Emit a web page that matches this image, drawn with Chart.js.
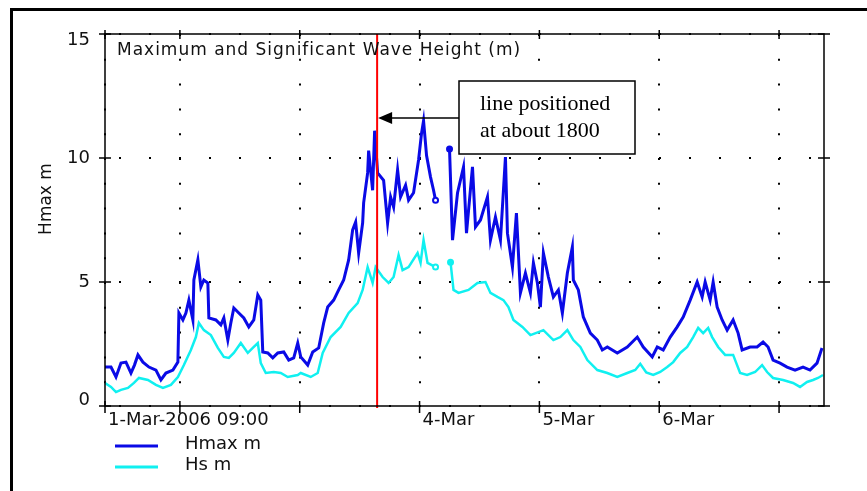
<!DOCTYPE html>
<html>
<head>
<meta charset="utf-8">
<script src="https://cdn.jsdelivr.net/npm/chart.js@4.4.0/dist/chart.umd.min.js"></script>
<style>
  html, body { margin: 0; padding: 0; background: #fff; }
  #wrap { width: 867px; height: 491px; position: relative; }
</style>
</head>
<body>
<div id="wrap"><canvas id="waves"></canvas></div>
<script>
// hours after 1-Mar-2006 09:00
const hmaxHours = [0, 1.2, 2.2, 3.2, 4.2, 5.2, 5.9, 6.6, 7.6, 8.8,
  10.2, 11.2, 12.2, 13.6, 14.6, 14.8, 15.6, 16.2, 16.8, 17.6,
  17.8, 18.6, 19.2, 19.8, 20.6, 20.8, 22.2, 23.2, 23.8, 24.6,
  25.2, 25.8, 26.8, 27.8, 28.8, 29.8, 30.6, 31.2, 31.6, 32.6,
  33.6, 34.6, 35.8, 36.8, 37.8, 38.6, 39.2, 40.6, 41.6, 42.8,
  43.8, 44.6, 45.8, 46.8, 47.8, 48.8, 49.6, 50.2, 50.8, 51.6,
  51.8, 52.6, 52.8, 53.6, 54, 54.6, 55.8, 56.6, 57.2, 57.8,
  58.6, 59.2, 60.2, 60.8, 61.8, 62.8, 63.4, 63.8, 64.4, 65.2,
  65.8, 66.2, 67.6, 69, 69.6, 70.6, 71.8, 72.4, 73.6, 74.2,
  75.2, 76.6, 77.2, 78.2, 79.2, 80.2, 80.6, 81.6, 82.4, 83.2,
  84.2, 85.2, 85.8, 86.6, 87.2, 87.8, 88.8, 89.8, 90.8, 91.6,
  92.6, 93.6, 93.8, 94.8, 95.8, 97.2, 98.6, 99.6, 100.6, 102.6,
  104.6, 106.6, 107.8, 109.6, 110.6, 111.8, 113.2, 114.6, 115.8, 117.2,
  118.6, 119.6, 120.2, 121.2, 121.8, 122.6, 123.6, 124.6, 125.8, 126.8,
  127.6, 129.2, 130.6, 131.8, 132.8, 133.8, 135.2, 136.6, 138.2, 139.8,
  141.2, 142.6, 143.6];
const hmaxValues = [1.57, 1.57, 1.17, 1.73, 1.77, 1.33, 1.65, 2.06, 1.77, 1.57,
  1.45, 1.05, 1.33, 1.45, 1.77, 3.75, 3.47, 3.75, 4.27, 3.47,
  5.08, 5.89, 4.8, 5.08, 4.96, 3.55, 3.47, 3.27, 3.55, 2.66,
  3.35, 3.95, 3.75, 3.55, 3.19, 3.47, 4.48, 4.27, 2.18, 2.14,
  1.94, 2.14, 2.18, 1.85, 1.94, 2.54, 1.98, 1.65, 2.18, 2.34,
  3.35, 3.99, 4.27, 4.68, 5.08, 5.89, 7.1, 7.42, 6.17, 7.38,
  8.19, 9.4, 10.3, 8.7, 11.1, 9.4, 9.1, 7.38, 8.43, 8.02,
  9.52, 8.43, 8.9, 8.3, 8.6, 9.92, 11.0, 11.5, 10.1, 9.23,
  8.7, 8.3, null, 10.36, 6.69, 8.59, 9.64, 6.97, 9.64, 7.22,
  7.5, 8.43, 6.69, 7.62, 6.69, 10.04, 6.97, 5.6, 7.78, 4.56,
  5.36, 4.56, 5.77, 4.96, 3.99, 6.17, 5.2, 4.4, 4.68, 3.75,
  5.36, 6.41, 5.08, 4.68, 3.59, 2.94, 2.66, 2.26, 2.38, 2.14,
  2.38, 2.78, 2.38, 1.98, 2.38, 2.26, 2.78, 3.19, 3.59, 4.27,
  5.0, 4.4, 5.0, 4.27, 5.0, 3.99, 3.47, 3.06, 3.47, 2.94,
  2.26, 2.38, 2.38, 2.58, 2.38, 1.85, 1.73, 1.57, 1.45, 1.57,
  1.45, 1.73, 2.34];

const hsHours = [0, 1.2, 2.2, 3.2, 4.6, 5.8, 6.8, 8.6, 10.2, 11.6,
  13.2, 14.6, 15.8, 17.2, 18.2, 18.8, 19.8, 21.2, 22.6, 23.8,
  24.8, 25.8, 27.2, 28.6, 29.6, 30.6, 31.2, 32.2, 33.8, 35.2,
  36.6, 38.6, 39.2, 41.2, 42.6, 43.6, 45.2, 47.2, 48.8, 50.6,
  51.6, 52.6, 53.6, 54.2, 55.6, 56.8, 57.8, 58.8, 59.6, 60.8,
  62.6, 63.2, 63.8, 64.6, 66.2, 67.6, 69.2, 69.8, 70.8, 72.8,
  74.6, 76.2, 77.2, 78.6, 79.8, 80.8, 81.8, 83.6, 85.2, 86.8,
  87.8, 89.8, 91.2, 92.6, 93.8, 95.2, 96.6, 98.6, 100.6, 102.6,
  104.6, 106.2, 107.2, 108.4, 109.8, 111.2, 112.6, 113.8, 115.2, 116.6,
  117.8, 118.8, 119.8, 120.8, 121.6, 122.8, 124.2, 125.8, 127.2, 128.6,
  130.2, 131.6, 132.6, 133.8, 135.8, 137.8, 139.2, 140.6, 141.8, 142.8,
  143.8];
const hsValues = [0.93, 0.77, 0.56, 0.65, 0.73, 0.93, 1.13, 1.05, 0.85, 0.73,
  0.85, 1.17, 1.65, 2.26, 2.78, 3.35, 3.06, 2.86, 2.34, 1.98,
  1.94, 2.14, 2.54, 2.14, 2.34, 2.54, 1.73, 1.33, 1.37, 1.33,
  1.17, 1.25, 1.33, 1.17, 1.33, 2.14, 2.78, 3.19, 3.75, 4.15,
  4.68, 5.6, 4.96, 5.6, 5.2, 4.96, 5.2, 6.09, 5.48, 5.6,
  6.17, 5.77, 6.69, 5.77, 5.6, null, 5.8, 4.68, 4.56, 4.68,
  4.96, 5.0, 4.56, 4.4, 4.27, 3.99, 3.47, 3.19, 2.86, 2.98,
  3.06, 2.66, 2.78, 3.06, 2.66, 2.38, 1.85, 1.45, 1.33, 1.17,
  1.33, 1.45, 1.70, 1.35, 1.25, 1.37, 1.57, 1.77, 2.14, 2.38,
  2.78, 3.15, 2.94, 3.15, 2.78, 2.38, 2.06, 2.06, 1.33, 1.25,
  1.37, 1.65, 1.37, 1.13, 1.05, 0.93, 0.77, 0.97, 1.05, 1.13,
  1.25];

const xTickHours = [0, 15, 39, 63, 87, 111, 135];
const xTickLabels = ['1-Mar-2006 09:00', '', '', '4-Mar', '5-Mar', '6-Mar', ''];
const yTickValues = [0, 5, 10, 15];
const markerHour = 54.5;

const chartTitle = 'Maximum and Significant Wave Height (m)';
const yTitle = 'Hmax m';
const noteLines = ['line positioned', 'at about 1800'];

const sans = '"DejaVu Sans", sans-serif';
const serif = '"Liberation Serif", "Times New Roman", serif';

function points(hours, values) {
    return hours.map((h, i) => ({ x: h, y: values[i] }));
}

// small circles where a series stops / restarts around the gap
function gapRadius(values) {
    return ctx => {
        const i = ctx.dataIndex;
        if (values[i] === null) return 0;
        return (values[i + 1] === null || values[i - 1] === null) ? 2.5 : 0;
    };
}

function gapFill(values, color) {
    return ctx => values[ctx.dataIndex + 1] === null ? '#fff' : color;
}

const decor = {
    id: 'decor',
    beforeDraw(chart) {
        const c = chart.ctx;
        c.save();
        c.fillStyle = '#fff';
        c.fillRect(0, 0, chart.width, chart.height);
        c.fillStyle = '#000';
        c.fillRect(10, 8, 3, chart.height - 8);
        c.fillRect(10, 8, chart.width - 10, 3);
        c.restore();
    },
    afterDatasetsDraw(chart) {
        const c = chart.ctx, a = chart.chartArea;
        const xs = chart.scales.x, ys = chart.scales.y;
        c.save();

        // red marker line
        const rx = xs.getPixelForValue(markerHour);
        c.strokeStyle = '#ff0000';
        c.lineWidth = 2;
        c.beginPath();
        c.moveTo(rx, a.top);
        c.lineTo(rx, a.bottom + 2);
        c.stroke();

        // axes box and tick marks on all four sides
        c.strokeStyle = '#000';
        c.lineWidth = 1.5;
        c.strokeRect(a.left, a.top, a.right - a.left, a.bottom - a.top);
        c.beginPath();
        xTickHours.forEach(h => {
            const px = xs.getPixelForValue(h);
            c.moveTo(px, a.bottom - 5); c.lineTo(px, a.bottom + 7);
            c.moveTo(px, a.top - 4); c.lineTo(px, a.top + 5);
        });
        yTickValues.forEach(v => {
            const py = ys.getPixelForValue(v);
            c.moveTo(a.left - 6, py); c.lineTo(a.left + 6, py);
            c.moveTo(a.right - 6, py); c.lineTo(a.right + 6, py);
        });
        c.stroke();

        // title inside the plot
        c.fillStyle = '#111';
        c.font = '17px ' + sans;
        c.letterSpacing = '1px';
        c.textBaseline = 'alphabetic';
        c.fillText(chartTitle, a.left + 12, a.top + 21);
        c.letterSpacing = '0px';

        // y axis title
        c.save();
        c.translate(47, 199);
        c.rotate(-Math.PI / 2);
        c.textAlign = 'center';
        c.textBaseline = 'middle';
        c.fillText(yTitle, 0, 0);
        c.restore();

        // legend
        c.font = '18px ' + sans;
        c.textBaseline = 'middle';
        chart.data.datasets.forEach((ds, i) => {
            const ly = 446 + i * 21;
            c.strokeStyle = ds.borderColor;
            c.lineWidth = 3;
            c.beginPath();
            c.moveTo(115, ly);
            c.lineTo(158, ly);
            c.stroke();
            c.fillStyle = '#111';
            c.fillText(ds.label, 185, ly - 2);
        });

        // note box with arrow to the marker
        const bx = 459, by = 81, bw = 176, bh = 73;
        c.fillStyle = '#fff';
        c.fillRect(bx, by, bw, bh);
        c.strokeStyle = '#000';
        c.lineWidth = 1.5;
        c.strokeRect(bx, by, bw, bh);
        c.fillStyle = '#000';
        c.font = '22px ' + serif;
        c.textBaseline = 'alphabetic';
        c.textAlign = 'left';
        noteLines.forEach((t, i) => c.fillText(t, 480, 110 + i * 27));
        const ay = 118;
        c.lineWidth = 1.5;
        c.beginPath();
        c.moveTo(bx, ay);
        c.lineTo(rx + 14, ay);
        c.stroke();
        c.beginPath();
        c.moveTo(rx + 1, ay);
        c.lineTo(rx + 15, ay - 6);
        c.lineTo(rx + 15, ay + 6);
        c.closePath();
        c.fill();

        c.restore();
    }
};

new Chart(document.getElementById('waves'), {
    type: 'line',
    data: {
        datasets: [{
            label: 'Hmax m',
            data: points(hmaxHours, hmaxValues),
            borderColor: '#0a0ae6',
            borderWidth: 3,
            pointRadius: gapRadius(hmaxValues),
            pointBackgroundColor: gapFill(hmaxValues, '#0a0ae6'),
            pointBorderColor: '#0a0ae6',
            pointBorderWidth: 2,
            tension: 0,
            spanGaps: false
        }, {
            label: 'Hs m',
            data: points(hsHours, hsValues),
            borderColor: '#10f0f0',
            borderWidth: 2.5,
            pointRadius: gapRadius(hsValues),
            pointBackgroundColor: gapFill(hsValues, '#10f0f0'),
            pointBorderColor: '#10f0f0',
            pointBorderWidth: 2,
            tension: 0,
            spanGaps: false
        }]
    },
    options: {
        responsive: true,
        maintainAspectRatio: false,
        animation: false,
        layout: { padding: { left: 0, right: 43, top: 34, bottom: 0 } },
        plugins: {
            legend: { display: false },
            tooltip: { enabled: false }
        },
        scales: {
            x: {
                type: 'linear',
                min: 0,
                max: 144,
                afterBuildTicks: s => { s.ticks = xTickHours.map(v => ({ value: v })); },
                afterFit: s => { s.height = 85; },
                ticks: {
                    autoSkip: false,
                    maxRotation: 0,
                    align: 'start',
                    labelOffset: 3,
                    padding: 4,
                    color: '#111',
                    font: { family: sans, size: 18 },
                    callback: (v, i) => xTickLabels[i]
                },
                grid: { color: '#000', lineWidth: 2, drawTicks: false },
                border: { display: false, dash: [2, 22.8] }
            },
            y: {
                type: 'linear',
                min: 0,
                max: 15,
                afterBuildTicks: s => { s.ticks = yTickValues.map(v => ({ value: v })); },
                afterFit: s => { s.width = 105; },
                ticks: {
                    padding: 15,
                    color: '#111',
                    font: ctx => ({
                        family: sans,
                        size: 18,
                        lineHeight: (ctx.tick && (ctx.tick.value === 0 || ctx.tick.value === 15)) ? 0.67 : 1.2
                    }),
                    callback: v => v === 0 ? ['0', ''] : v === 15 ? ['', '15'] : String(v)
                },
                grid: { color: '#000', lineWidth: 2, drawTicks: false },
                border: { display: false, dash: [2, 28], dashOffset: 16 }
            }
        }
    },
    plugins: [decor]
});
</script>
</body>
</html>
